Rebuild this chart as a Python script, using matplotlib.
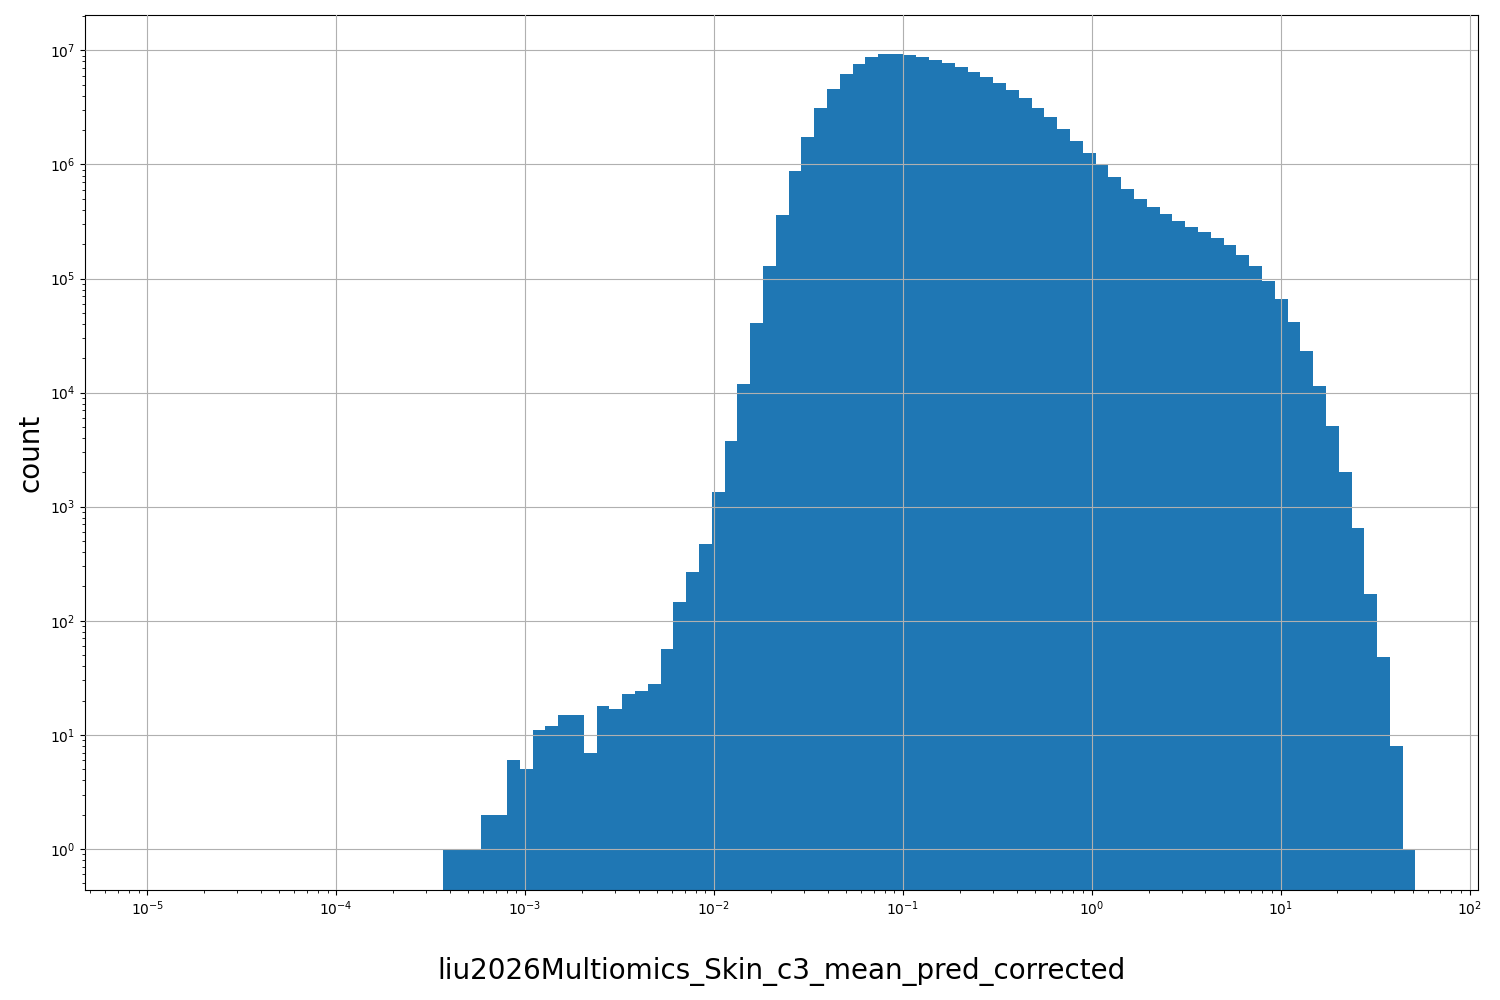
import numpy as np
import matplotlib
matplotlib.use("Agg")
import matplotlib.pyplot as plt

log_min, log_max, n_bins = -5.06, 1.714, 100
counts_nonzero = [1, 1, 1, 2, 2, 6, 5, 11, 12, 15, 15, 7, 18, 17, 23, 24, 28, 57, 145, 265,
                  475, 1350, 3800, 12000, 41000, 128000, 360000, 870000, 1.75e6, 3.1e6,
                  4.6e6, 6.2e6, 7.6e6, 8.7e6, 9.3e6, 9.3e6, 9.1e6, 8.7e6, 8.2e6, 7.7e6,
                  7.1e6, 6.5e6, 5.9e6, 5.2e6, 4.5e6, 3.8e6, 3.1e6, 2.6e6, 2.05e6, 1.62e6,
                  1.25e6, 9.8e5, 7.7e5, 6.1e5, 5.0e5, 4.2e5, 3.65e5, 3.2e5, 2.85e5, 2.55e5,
                  2.25e5, 1.95e5, 1.62e5, 1.3e5, 9.6e4, 6.6e4, 4.2e4, 2.3e4, 1.15e4, 5100,
                  2000, 650, 170, 48, 8, 1]
counts = [0] * (n_bins - len(counts_nonzero)) + counts_nonzero
edges = np.logspace(log_min, log_max, n_bins + 1)

fig = plt.figure(figsize=(15, 10), dpi=100)
ax = fig.add_axes([85/1500, 110/1000, 1393/1500, 875/1000])
ax.hist(edges[:-1], bins=edges, weights=counts, color="#1f77b4")
ax.set_xscale("log")
ax.set_yscale("log")
ax.set_xlim(10**-5.33, 10**2.045)
ax.set_ylim(10**-0.36, 10**7.31)
ax.grid(True)
ax.set_axisbelow(False)
ax.set_ylabel("count", fontsize=20)
ax.set_xlabel("liu2026Multiomics_Skin_c3_mean_pred_corrected", fontsize=20, labelpad=28)
fig.savefig("out.png", dpi=100)
